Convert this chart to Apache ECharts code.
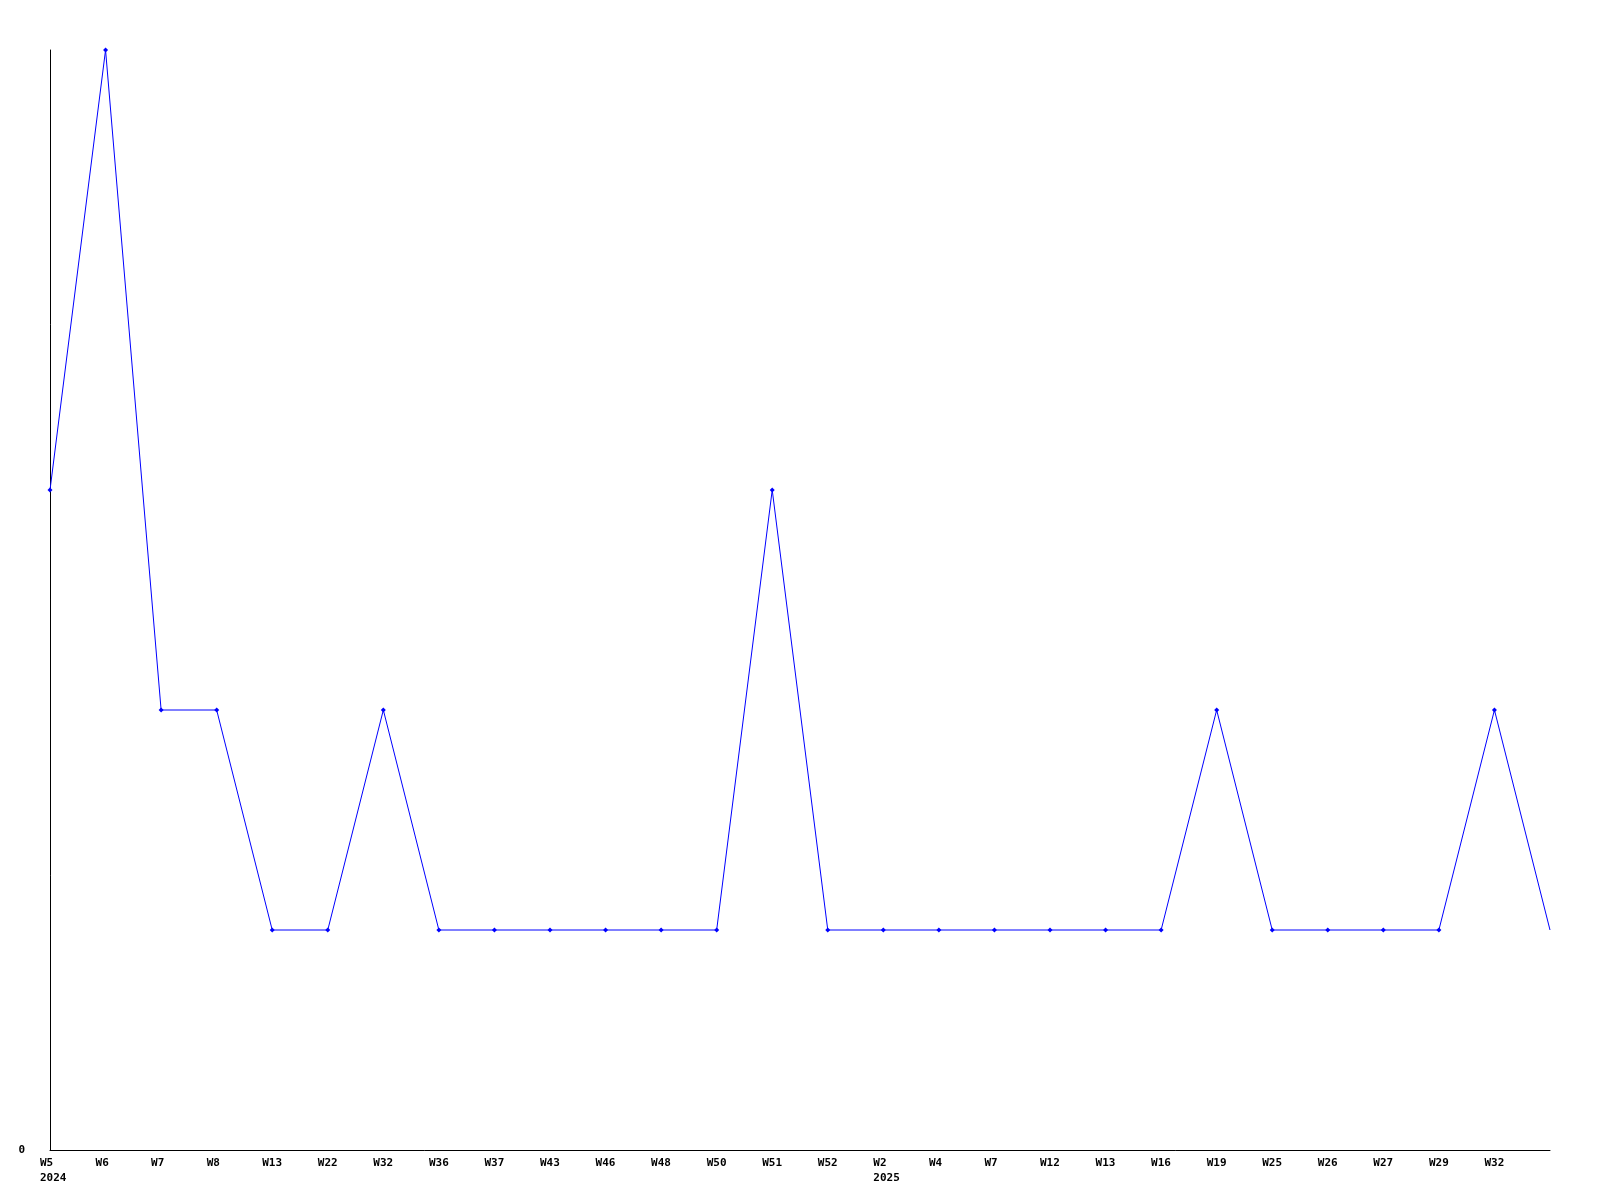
<!DOCTYPE html>
<html><head><meta charset="utf-8">
<script src="https://cdn.jsdelivr.net/npm/echarts@6/dist/echarts.min.js"></script>
<style>html,body{margin:0;padding:0;background:#fff}#c{width:1600px;height:1200px}</style>
</head><body><div id="c"></div>
<script>
const weeks = ['W5','W6','W7','W8','W13','W22','W32','W36','W37','W43','W46','W48','W50','W51','W52','W2','W4','W7','W12','W13','W16','W19','W25','W26','W27','W29','W32',''];
const years = ['2024','','','','','','','','','','','','','','','2025','','','','','','','','','','','',''];
const counts = [3,5,2,2,1,1,2,1,1,1,1,1,1,3,1,1,1,1,1,1,1,2,1,1,1,1,2,1];
const yTicks = [0];

const cats = weeks.map((w,i)=>String(i));
const font = 'DejaVu Sans Mono';
const chart = echarts.init(document.getElementById('c'), null, {renderer:'canvas'});
chart.setOption({
  animation:false,
  backgroundColor:'#fff',
  grid:{left:50,right:50,top:50,bottom:50,containLabel:false},
  xAxis:{
    type:'category', data:cats, boundaryGap:false,
    axisLine:{lineStyle:{color:'#000',width:1}},
    axisTick:{show:false},
    splitLine:{show:false},
    axisLabel:{
      interval:0, hideOverlap:false, margin:6, align:'center',
      formatter:(v)=>{const i=+v; const w=weeks[i]; if(!w) return ''; return '{a|'+w+'}' + (years[i]?'\n{a|'+years[i]+'}':'');},
      rich:{a:{width:20,align:'left',fontFamily:font,fontWeight:'bold',fontSize:11,color:'#000',lineHeight:15}}
    }
  },
  yAxis:{
    type:'value', min:0, max:5, interval:1,
    axisLine:{show:true,lineStyle:{color:'#000',width:1}},
    axisTick:{show:false},
    splitLine:{show:false},
    axisLabel:{margin:25, fontFamily:font, fontWeight:'bold', fontSize:11, color:'#000',
      formatter:(v)=> yTicks.includes(v)? String(v):''}
  },
  series:[{
    type:'line',
    data:counts.map((v,i)=> i===counts.length-1 ? {value:v,symbol:'none'} : v),
    symbol:'diamond', symbolSize:5, showSymbol:true,
    lineStyle:{color:'#0000ff',width:1},
    itemStyle:{color:'#0000ff',borderWidth:0},
    clip:false
  }]
});
</script></body></html>
